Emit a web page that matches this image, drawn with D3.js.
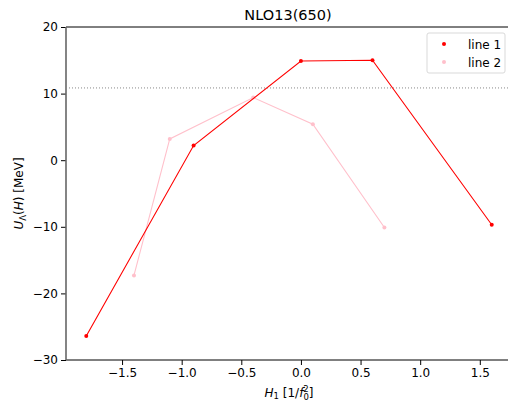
<!DOCTYPE html>
<html>
<head>
<meta charset="utf-8">
<script src="https://cdn.jsdelivr.net/npm/d3@7"></script>
<style>
  html, body { margin: 0; padding: 0; background: #fff; }
  svg { display: block; font-family: "DejaVu Sans", sans-serif; }
</style>
</head>
<body>
<svg id="chart" width="508" height="405"></svg>
<script>
// Series data
const line1X = [-1.8, -0.9, 0.0, 0.6, 1.6];
const line1Y = [-26.4, 2.2, 14.9, 15.0, -9.7];
const line2X = [-1.4, -1.1, -0.4, 0.1, 0.7];
const line2Y = [-17.3, 3.2, 9.4, 5.4, -10.1];
const refLevel = 10.85;

const xTicks = [-1.5, -1.0, -0.5, 0.0, 0.5, 1.0, 1.5];
const yTicks = [-30, -20, -10, 0, 10, 20];
const seriesNames = ["line 1", "line 2"];
const seriesColors = ["#ff0000", "#ffc0cb"];

const svg = d3.select("#chart");
const plotL = 66, plotR = 512, plotT = 27, plotB = 360;

const x = d3.scaleLinear().domain([-1.97, 1.77]).range([plotL, plotR]);
const y = d3.scaleLinear().domain([-30, 20]).range([plotB, plotT]);

const fmt = d => d3.format(".1f")(d).replace("-", "\u2212");
const fmtY = d => String(d).replace("-", "\u2212");

// Axes
const xAxis = svg.append("g").attr("transform", `translate(0,${plotB})`)
  .call(d3.axisBottom(x).tickValues(xTicks).tickFormat(fmt).tickSize(5).tickPadding(3));
const yAxis = svg.append("g").attr("transform", `translate(${plotL},0)`)
  .call(d3.axisLeft(y).tickValues(yTicks).tickFormat(fmtY).tickSize(5).tickPadding(3));
[xAxis, yAxis].forEach(g => {
  g.selectAll("text").attr("font-size", 12).attr("font-family", "DejaVu Sans").attr("fill", "#000");
  g.selectAll("line").attr("stroke", "#000").attr("stroke-width", 1);
  g.select(".domain").remove();
});

// Frame
svg.append("line").attr("x1", plotL).attr("x2", plotR).attr("y1", plotT).attr("y2", plotT)
  .attr("stroke", "#000").attr("stroke-width", 1);
svg.append("line").attr("x1", plotL).attr("x2", plotR).attr("y1", plotB).attr("y2", plotB)
  .attr("stroke", "#000").attr("stroke-width", 1);
svg.append("line").attr("x1", plotL).attr("x2", plotL).attr("y1", plotT).attr("y2", plotB)
  .attr("stroke", "#666").attr("stroke-width", 1.6);

// Reference level
svg.append("line").attr("x1", plotL).attr("x2", plotR)
  .attr("y1", y(refLevel)).attr("y2", y(refLevel))
  .attr("stroke", "#888").attr("stroke-width", 1).attr("stroke-dasharray", "1,2");

// Series
const series = [
  { xs: line1X, ys: line1Y, color: seriesColors[0] },
  { xs: line2X, ys: line2Y, color: seriesColors[1] }
];
const lineGen = d3.line().x(d => x(d[0])).y(d => y(d[1]));
// line 2 goes underneath line 1
[series[1], series[0]].forEach(s => {
  const pts = s.xs.map((v, i) => [v, s.ys[i]]);
  svg.append("path").datum(pts).attr("d", lineGen)
    .attr("fill", "none").attr("stroke", s.color).attr("stroke-width", 1.1);
  svg.selectAll(null).data(pts).enter().append("circle")
    .attr("cx", d => x(d[0])).attr("cy", d => y(d[1])).attr("r", 2)
    .attr("fill", s.color);
});

// Title
svg.append("text").attr("x", 288).attr("y", 20)
  .attr("text-anchor", "middle").attr("font-size", 14.5).text("NLO13(650)");

// X label
const xl = svg.append("text").attr("x", 289).attr("y", 397)
  .attr("text-anchor", "middle").attr("font-size", 12);
xl.append("tspan").attr("font-style", "italic").text("H");
xl.append("tspan").attr("font-size", 8.5).attr("dy", 2).text("1");
xl.append("tspan").attr("dy", -2).text(" [1/");
xl.append("tspan").attr("font-style", "italic").text("f");
xl.append("tspan").attr("font-size", 8.5).attr("dy", -5).text("2");
xl.append("tspan").attr("font-size", 8.5).attr("dx", -5.4).attr("dy", 7.5).text("0");
xl.append("tspan").attr("dy", -2.5).text("]");

// Y label
const yl = svg.append("text").attr("transform", `translate(23,${(plotT + plotB) / 2}) rotate(-90)`)
  .attr("text-anchor", "middle").attr("font-size", 12);
yl.append("tspan").attr("font-style", "italic").text("U");
yl.append("tspan").attr("font-size", 8.5).attr("dy", 2.5).text("\u039B");
yl.append("tspan").attr("dy", -2.5).text("(");
yl.append("tspan").attr("font-style", "italic").text("H");
yl.append("tspan").text(") [MeV]");

// Legend
const lg = svg.append("g").attr("transform", "translate(427,33)");
lg.append("rect").attr("width", 78).attr("height", 40).attr("rx", 2)
  .attr("fill", "#fff").attr("fill-opacity", 0.8).attr("stroke", "#d9d9d9").attr("stroke-width", 1);
seriesNames.forEach((name, i) => {
  const cy = 11 + i * 18;
  lg.append("circle").attr("cx", 17).attr("cy", cy).attr("r", 2).attr("fill", seriesColors[i]);
  lg.append("text").attr("x", 41).attr("y", cy + 4.5).attr("font-size", 12).text(name);
});
</script>
</body>
</html>
